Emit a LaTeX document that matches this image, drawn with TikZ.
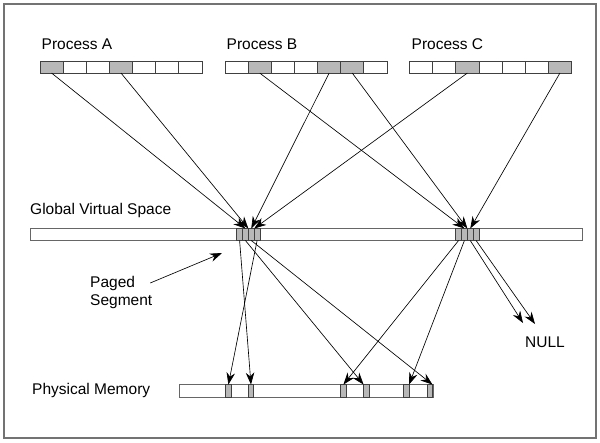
\documentclass[tikz,border=0pt]{standalone}
\usepackage{fontspec}
\setmainfont{Liberation Sans}
\usetikzlibrary{positioning, arrows.meta}
\definecolor{shade}{gray}{0.72}

\begin{document}
\begin{tikzpicture}[x=1pt,y=-1pt]
\tikzset{
cell/.style={draw=black!75, line width=0.7pt, fill=white, minimum width=23.14pt, minimum height=11.5pt, inner sep=0pt, outer sep=0pt}, % one page of a process
seg/.style={cell, fill=shade, minimum width=5.83pt, minimum height=12pt}, % one page of a segment
bar/.style={draw=black!60, line width=0.8pt, fill=white, minimum height=12pt, inner sep=0pt, anchor=west}, % long address space
link/.style={-{Stealth[length=12pt,width=8.5pt]}, line width=0.65pt}, % mapping arrow
lbl/.style={font=\fontsize{15.5}{18}\selectfont, inner sep=0pt, anchor=west}, % text
}
	\useasboundingbox (0,0) rectangle (600,442);
	\draw[black!55, line width=1.2pt] (4,4) rectangle (596,438);

	% processes
	\node[lbl] (pa) at (41.5,44) {Process A};
	\node[lbl] (pb) at (226.5,44) {Process B};
	\node[lbl] (pc) at (411.5,44) {Process C};
	\foreach \f [count=\i from 0] in {shade,white,white,shade,white,white,white}
		\node[cell, fill=\f] (A\i) at (51.57+23.14*\i,67.3) {};
	\foreach \f [count=\i from 0] in {white,shade,white,white,shade,shade,white}
		\node[cell, fill=\f] (B\i) at (236.57+23.14*\i,67.3) {};
	\foreach \f [count=\i from 0] in {white,white,shade,white,white,white,shade}
		\node[cell, fill=\f] (C\i) at (421.07+23.14*\i,67.3) {};

	% global virtual space
	\node[lbl] (gl) at (30,210) {Global Virtual Space};
	\node[bar, minimum width=552pt] (gvs) at (30,234.5) {};
	\foreach \i in {0,...,3} {
		\node[seg] (GL\i) at (239.6+5.83*\i,234.5) {};
		\node[seg] (GR\i) at (458.6+5.83*\i,234.5) {};
	}

	% physical memory
	\node[lbl] (pl) at (32,390.5) {Physical Memory};
	\node[bar, minimum width=254pt, minimum height=12.5pt] (pm) at (179,390.8) {};
	\foreach \x [count=\i] in {228.4,251,343.4,366.3,406.3,429.7}
		\node[seg, minimum width=5.5pt, minimum height=12.5pt] (M\i) at (\x,390.8) {};

	\node[lbl] (null) at (525,342) {NULL};
	\coordinate (n1) at (523,323);
	\coordinate (n2) at (535,324);

	\node[lbl] (pgd) at (90,283) {Paged};
	\node[lbl] (sgm) at (90,302) {Segment};
	\coordinate (pg) at (222,253);
	\draw[link] ([xshift=15pt]pgd.east) -- (pg);

	% processes to global space
	\draw[link] (A0.south) -- (GL1.north);
	\draw[link] (A3.south) -- (GL1.north east);
	\draw[link] (B4.south) -- (GL2.north);
	\draw[link] (C2.south) -- (GL2.north east);
	\draw[link] (B1.south) -- (GR1.north);
	\draw[link] (B5.south) -- (GR1.north east);
	\draw[link] (C6.south) -- (GR2.north);

	% global space to memory
	\draw[link] (GL0.south) -- (M2.north);
	\draw[link] (GL3.south) -- (M1.north);
	\draw[link] (GL1.south) -- (M4.north west);
	\draw[link] (GL2.south) -- (M6.north east);
	\draw[link] (GR0.south) -- (M3.north);
	\draw[link] (GR1.south) -- (M5.north east);
	\draw[link] (GR2.south) -- (n1);
	\draw[link] (GR3.south) -- (n2);
\end{tikzpicture}
\end{document}
